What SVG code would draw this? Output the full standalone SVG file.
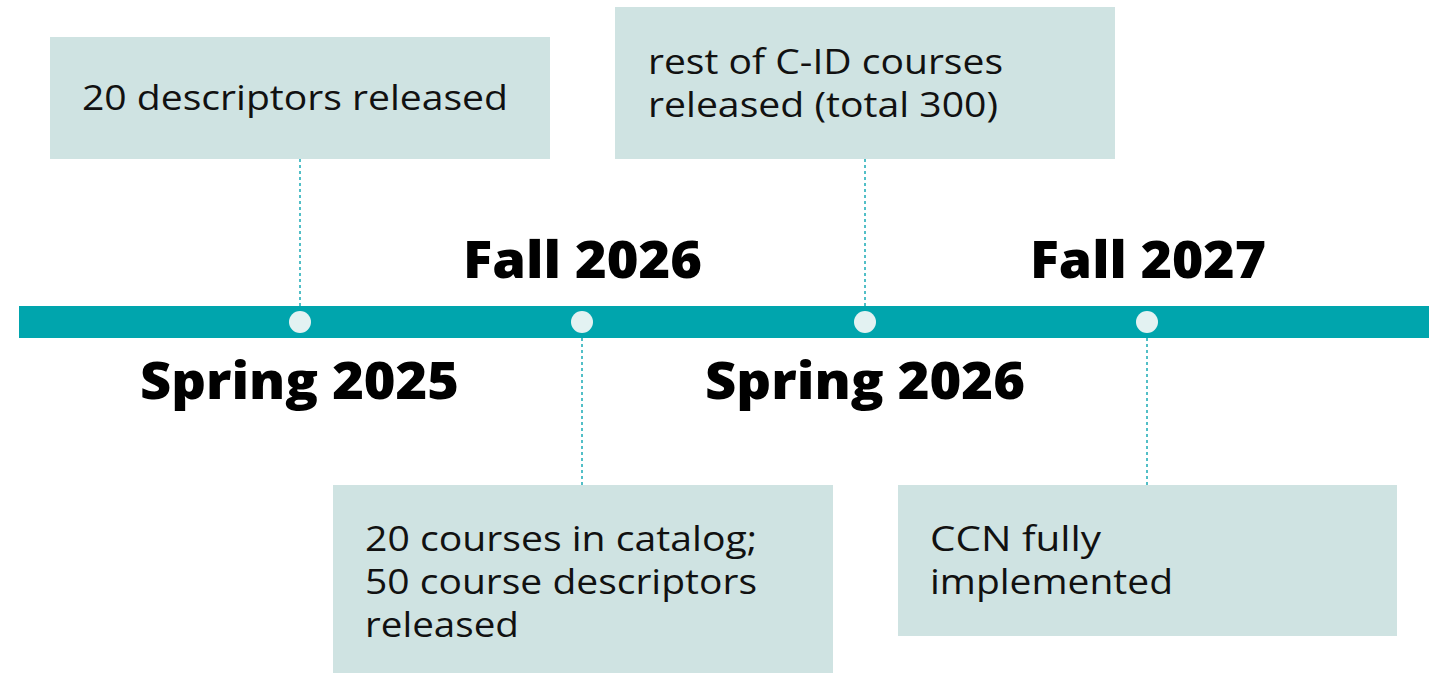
<svg xmlns="http://www.w3.org/2000/svg" width="1443" height="675" viewBox="0 0 1443 675">
<style>
.box{fill:#CFE3E2}
.t{font-family:"Open Sans",Lato,sans-serif;font-size:35px;fill:#111}
.h{font-family:"Open Sans",Lato,sans-serif;font-size:52px;font-weight:800;fill:#000}
.dash{stroke:#1AAAB5;stroke-width:1.5;stroke-dasharray:3 3;fill:none}
.dot{fill:#E3F2F2}
</style>
<rect width="1443" height="675" fill="#fff"/>
<g id="connectors">
<line class="dash" x1="300" y1="159" x2="300" y2="306"/>
<line class="dash" x1="865" y1="159" x2="865" y2="306"/>
<line class="dash" x1="582" y1="338" x2="582" y2="485"/>
<line class="dash" x1="1147" y1="338" x2="1147" y2="485"/>
</g>
<g id="timeline">
<rect x="19" y="306" width="1410" height="32" fill="#00A5AD"/>
<circle class="dot" cx="300" cy="322" r="11"/>
<circle class="dot" cx="582" cy="322" r="11"/>
<circle class="dot" cx="865" cy="322" r="11"/>
<circle class="dot" cx="1147" cy="322" r="11"/>
</g>
<g id="label-spring2025"><text class="h" x="140" y="399" textLength="319" lengthAdjust="spacingAndGlyphs">Spring 2025</text></g>
<g id="label-fall2026"><text class="h" x="463" y="278" textLength="239" lengthAdjust="spacingAndGlyphs">Fall 2026</text></g>
<g id="label-spring2026"><text class="h" x="705" y="399" textLength="320" lengthAdjust="spacingAndGlyphs">Spring 2026</text></g>
<g id="label-fall2027"><text class="h" x="1030" y="278" textLength="236" lengthAdjust="spacingAndGlyphs">Fall 2027</text></g>
<g id="box1">
<rect class="box" x="50" y="37" width="500" height="122"/>
<text class="t" x="82" y="110" textLength="426" lengthAdjust="spacingAndGlyphs">20 descriptors released</text>
</g>
<g id="box2">
<rect class="box" x="615" y="7" width="500" height="152"/>
<text class="t" x="648" y="74" textLength="355" lengthAdjust="spacingAndGlyphs">rest of C-ID courses</text>
<text class="t" x="648" y="117" textLength="350" lengthAdjust="spacingAndGlyphs">released (total 300)</text>
</g>
<g id="box3">
<rect class="box" x="333" y="485" width="500" height="188"/>
<text class="t" x="365" y="551" textLength="392" lengthAdjust="spacingAndGlyphs">20 courses in catalog;</text>
<text class="t" x="365" y="594" textLength="392" lengthAdjust="spacingAndGlyphs">50 course descriptors</text>
<text class="t" x="365" y="637" textLength="154" lengthAdjust="spacingAndGlyphs">released</text>
</g>
<g id="box4">
<rect class="box" x="898" y="485" width="499" height="151"/>
<text class="t" x="930" y="551" textLength="171" lengthAdjust="spacingAndGlyphs">CCN fully</text>
<text class="t" x="930" y="594" textLength="243" lengthAdjust="spacingAndGlyphs">implemented</text>
</g>
</svg>
